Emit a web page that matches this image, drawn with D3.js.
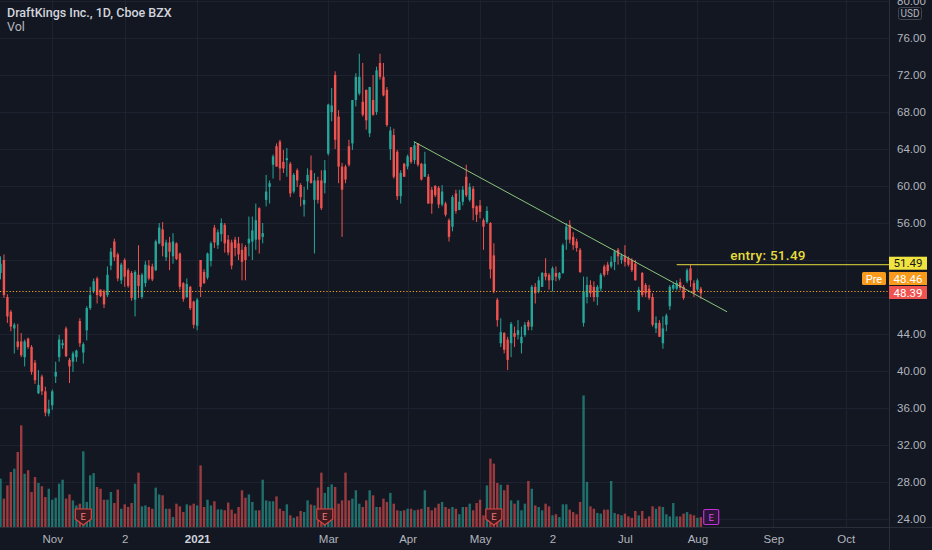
<!DOCTYPE html>
<html lang="en">
<head>
<meta charset="utf-8">
<title>DraftKings Inc., 1D</title>
<script src="https://d3js.org/d3.v7.min.js"></script>
<style>
  html, body { margin: 0; padding: 0; background: #131722; overflow: hidden; }
  svg { display: block; font-family: Roboto, "Noto Sans", sans-serif; }
  .axis text { fill: #b2b5be; font-size: 11.5px; }
  .axis path, .axis line { display: none; }
</style>
</head>
<body>
<svg id="chart" width="932" height="550"></svg>
<script>
// daily candles, [open, high, low, close], first bar = 2020-10-12
const candles = [
  [50.6, 52.4, 49.9, 51.6], [52.0, 52.6, 47.9, 48.2], [48.0, 48.3, 45.2, 45.9], [46.4, 46.6, 44.3, 44.8], [44.6, 45.2, 41.9, 45.0],
  [43.2, 45.1, 42.3, 42.6], [43.2, 44.1, 41.5, 41.7], [41.5, 43.4, 40.5, 43.2], [43.5, 43.6, 42.4, 42.6], [42.6, 42.8, 39.6, 39.9],
  [40.9, 41.2, 38.6, 39.0], [37.6, 40.1, 37.5, 38.5], [39.4, 39.6, 37.4, 37.8], [37.8, 38.3, 35.1, 35.5], [35.4, 36.9, 35.1, 35.9],
  [36.3, 38.0, 35.8, 37.8], [39.4, 41.0, 38.7, 39.9], [41.5, 43.9, 41.0, 43.4], [42.8, 43.4, 42.4, 43.0], [44.6, 44.8, 41.5, 41.6],
  [41.2, 41.4, 38.7, 40.5], [41.0, 42.1, 39.9, 41.9], [41.5, 42.3, 41.0, 42.2], [45.4, 45.7, 42.6, 43.0], [42.0, 43.1, 40.8, 42.9],
  [44.4, 47.0, 43.3, 46.8], [46.8, 49.1, 46.6, 48.2], [48.6, 50.0, 48.4, 49.7], [50.0, 50.2, 47.3, 48.2], [48.8, 48.8, 48.0, 48.1],
  [48.6, 48.8, 46.8, 47.2], [48.2, 51.3, 48.0, 50.4], [51.4, 53.3, 50.9, 52.9], [54.0, 54.3, 51.9, 52.3], [52.6, 52.8, 49.7, 50.0],
  [49.8, 51.7, 49.4, 51.5], [52.0, 52.2, 49.1, 50.2], [50.9, 51.1, 49.0, 49.2], [50.6, 50.8, 47.6, 47.9], [47.7, 50.9, 45.9, 50.7],
  [50.4, 53.6, 47.9, 49.2], [48.0, 50.6, 47.8, 50.4], [49.5, 51.9, 49.1, 51.5], [51.4, 52.0, 49.8, 50.0], [51.3, 51.6, 49.7, 49.9],
  [50.9, 54.2, 50.8, 54.0], [53.8, 56.0, 53.7, 55.5], [55.3, 56.1, 52.4, 53.5], [52.3, 54.2, 51.9, 53.9], [53.9, 54.5, 50.9, 52.9],
  [52.4, 54.9, 51.6, 54.0], [53.8, 53.9, 52.0, 52.1], [52.7, 52.8, 48.8, 49.1], [49.5, 49.6, 47.5, 47.8], [48.0, 50.0, 47.9, 49.4],
  [49.1, 49.2, 46.6, 46.8], [47.5, 47.6, 44.6, 45.0], [44.9, 47.9, 44.4, 47.7], [52.0, 52.0, 48.0, 49.1], [50.7, 51.0, 49.4, 49.5],
  [50.1, 52.8, 49.9, 52.7], [51.9, 54.0, 51.3, 53.8], [55.5, 55.8, 53.3, 53.9], [53.6, 55.3, 53.2, 55.0], [54.8, 56.5, 54.0, 56.0],
  [55.8, 56.0, 52.8, 53.8], [54.2, 54.7, 52.5, 52.8], [53.9, 54.2, 51.0, 51.4], [54.2, 54.5, 52.4, 53.3], [53.8, 54.5, 52.0, 52.6],
  [53.1, 53.8, 49.8, 51.8], [53.4, 53.6, 49.8, 52.0], [53.8, 56.7, 52.4, 54.3], [54.0, 56.7, 52.0, 55.2], [54.2, 58.1, 53.1, 56.3],
  [57.6, 57.7, 52.7, 54.2], [54.5, 56.0, 53.8, 54.9], [58.5, 61.2, 57.8, 59.4], [59.9, 60.6, 58.1, 60.3], [62.3, 63.4, 60.8, 63.2],
  [64.3, 64.6, 62.1, 62.1], [64.8, 65.0, 60.6, 61.9], [62.6, 63.9, 61.4, 61.9], [62.8, 64.1, 61.0, 63.0], [62.4, 62.6, 58.8, 59.2],
  [59.4, 61.4, 59.2, 61.2], [61.7, 61.9, 59.9, 60.6], [60.1, 60.3, 57.8, 58.8], [58.0, 59.9, 56.7, 58.5], [60.5, 61.9, 59.6, 61.2],
  [61.7, 63.3, 60.3, 60.3], [58.5, 61.4, 52.7, 60.6], [60.6, 61.0, 58.1, 58.5], [60.6, 61.7, 57.4, 57.6], [60.3, 62.8, 59.2, 61.7],
  [63.5, 68.9, 63.3, 68.8], [68.0, 70.6, 67.0, 68.7], [72.0, 72.4, 64.0, 65.0], [67.5, 68.2, 60.3, 62.1], [62.1, 62.5, 54.5, 59.6],
  [62.1, 62.3, 60.3, 60.7], [64.3, 65.0, 62.1, 62.3], [64.6, 69.3, 63.9, 69.3], [69.3, 72.2, 68.6, 71.8], [70.0, 74.3, 69.8, 71.8],
  [69.1, 73.3, 67.5, 67.7], [70.4, 70.4, 66.1, 67.1], [65.7, 70.7, 65.3, 70.7], [69.3, 72.0, 67.6, 67.7], [68.0, 72.9, 67.7, 72.5],
  [73.3, 74.3, 71.5, 71.8], [71.8, 73.3, 69.7, 69.8], [70.4, 70.7, 66.4, 66.6], [64.0, 66.4, 62.8, 66.0], [65.5, 66.2, 60.8, 61.0],
  [63.7, 63.9, 58.5, 58.9], [58.9, 61.7, 58.1, 61.4], [62.4, 62.5, 61.0, 61.0], [62.1, 63.4, 61.8, 63.2], [64.2, 64.2, 62.4, 62.6],
  [62.8, 64.8, 62.4, 64.4], [64.6, 64.6, 62.1, 62.3], [62.4, 62.5, 60.6, 60.7], [61.0, 63.7, 61.0, 62.4], [61.0, 61.3, 58.1, 58.1],
  [59.6, 59.9, 57.0, 58.1], [60.0, 60.1, 58.8, 59.0], [59.8, 60.0, 57.6, 58.0], [58.0, 60.1, 57.8, 59.4], [58.1, 58.3, 56.7, 56.9],
  [56.3, 56.5, 54.0, 54.5], [55.6, 59.0, 55.1, 58.8], [59.2, 59.6, 57.0, 57.3], [57.4, 59.6, 57.4, 58.3], [58.3, 60.0, 57.9, 59.6],
  [61.0, 62.3, 58.8, 59.0], [58.5, 60.3, 58.3, 59.9], [59.7, 60.0, 56.3, 57.6], [57.8, 57.9, 56.1, 56.9], [57.9, 58.5, 56.5, 57.2],
  [56.3, 56.5, 53.1, 55.6], [56.1, 57.8, 55.9, 57.3], [56.0, 56.1, 50.0, 51.0], [52.5, 53.8, 48.4, 48.6], [47.7, 47.9, 44.8, 45.5],
  [43.0, 45.7, 42.6, 44.2], [44.1, 44.2, 41.9, 42.3], [43.4, 43.7, 40.1, 41.2], [43.0, 45.3, 41.5, 45.1], [44.1, 44.8, 42.6, 43.7],
  [43.9, 45.5, 43.4, 44.4], [43.0, 44.8, 41.9, 43.7], [43.9, 45.3, 43.7, 45.0], [45.3, 45.5, 44.4, 44.8], [44.8, 49.3, 44.4, 49.1],
  [49.1, 49.5, 47.3, 48.4], [48.6, 50.2, 48.4, 49.8], [49.1, 50.7, 49.1, 50.6], [50.6, 52.2, 49.8, 50.2], [50.4, 50.6, 48.8, 49.8],
  [49.8, 51.3, 48.6, 51.1], [50.6, 51.3, 49.7, 50.2], [50.0, 50.7, 49.8, 50.6], [50.6, 53.8, 50.5, 53.6], [54.2, 56.0, 53.1, 55.6],
  [55.8, 56.3, 53.8, 54.2], [54.5, 55.0, 53.1, 53.6], [54.0, 54.3, 52.9, 53.3], [53.1, 53.3, 50.6, 50.7], [45.2, 50.2, 44.8, 48.6],
  [48.0, 50.2, 47.3, 49.3], [49.3, 49.8, 48.0, 48.4], [49.1, 49.7, 47.5, 48.0], [48.0, 49.3, 47.1, 49.1], [48.9, 50.6, 48.6, 50.4],
  [51.3, 51.5, 50.2, 50.4], [51.5, 51.8, 50.4, 50.8], [51.3, 52.4, 51.1, 51.8], [51.8, 53.1, 50.9, 52.9], [53.1, 53.3, 51.5, 52.4],
  [52.0, 52.7, 51.6, 52.5], [52.5, 53.6, 51.3, 51.8], [52.2, 52.4, 51.3, 51.5], [52.0, 52.2, 50.7, 50.9], [51.6, 52.0, 49.8, 49.8],
  [46.6, 49.1, 46.4, 48.8], [50.6, 50.7, 48.0, 48.2], [49.3, 49.5, 48.0, 48.4], [48.9, 49.3, 47.7, 47.9], [48.0, 48.4, 44.8, 45.0],
  [44.6, 45.9, 44.1, 45.2], [45.2, 45.5, 43.7, 43.7], [43.0, 45.9, 42.4, 44.6], [45.0, 46.2, 44.3, 46.0], [47.0, 49.3, 46.6, 49.1],
  [48.9, 49.5, 48.7, 49.3], [48.9, 49.8, 48.7, 49.5], [49.6, 50.0, 48.7, 49.0], [49.1, 49.3, 47.7, 47.9], [49.7, 51.1, 49.5, 50.9],
  [51.1, 51.5, 49.1, 49.8], [49.5, 49.8, 48.0, 48.4], [48.8, 50.0, 48.6, 49.8], [48.9, 49.1, 47.8, 48.39]
];

// daily volume, millions of shares
const volumes = [
  22.0, 12.9, 18.9, 25.0, 26.5, 34.1, 46.2, 24.2, 25.8, 15.9,
  22.7, 20.0, 18.5, 13.6, 17.4, 12.4, 13.3, 19.7, 21.5, 12.9,
  14.8, 12.1, 9.8, 10.6, 34.4, 11.4, 23.5, 24.5, 18.2, 17.4,
  12.4, 12.4, 15.9, 10.9, 17.0, 8.3, 10.3, 9.1, 10.9, 19.7,
  24.7, 9.4, 9.8, 9.1, 8.3, 17.9, 14.8, 14.4, 8.3, 8.3,
  4.5, 10.6, 9.4, 6.8, 10.3, 9.8, 10.6, 9.8, 28.0, 9.1,
  12.4, 9.8, 11.7, 8.0, 8.0, 7.6, 11.1, 7.9, 6.1, 9.1,
  16.7, 13.3, 14.8, 11.4, 7.6, 7.6, 21.5, 12.1, 11.7, 11.7,
  13.9, 8.3, 7.3, 10.3, 5.3, 4.2, 4.8, 7.3, 6.8, 12.1,
  10.2, 9.8, 17.9, 24.7, 15.5, 18.2, 19.4, 18.2, 10.6, 12.1,
  24.7, 12.1, 12.9, 16.7, 10.6, 9.1, 12.1, 16.7, 14.4, 9.1,
  9.1, 12.9, 11.4, 15.5, 10.6, 7.6, 7.3, 7.6, 8.3, 8.3,
  7.6, 7.9, 8.3, 16.7, 9.1, 7.6, 8.8, 10.6, 11.4, 9.1,
  8.3, 9.1, 8.3, 5.8, 9.1, 9.1, 10.6, 7.6, 10.9, 12.4,
  5.3, 18.9, 31.1, 28.8, 20.0, 19.2, 16.7, 19.2, 12.1, 10.6,
  12.1, 7.6, 10.6, 20.9, 17.4, 9.8, 9.1, 7.6, 10.6, 9.4,
  5.3, 5.8, 4.5, 10.3, 10.3, 7.9, 6.8, 5.8, 11.4, 59.8,
  20.5, 9.4, 8.3, 6.4, 6.1, 7.9, 7.9, 20.9, 6.4, 5.8,
  5.3, 6.1, 4.8, 4.2, 7.3, 5.3, 7.3, 3.8, 4.8, 9.4,
  8.3, 9.4, 9.1, 5.8, 4.8, 10.9, 4.8, 4.8, 6.1, 6.8,
  5.8, 5.3, 4.2, 4.5
];

// time axis: bar index of each label
const timeTicks = [15, 36, 57, 95, 118, 139, 160, 181, 202, 224, 245];
const timeLabels = ['Nov', '2', '2021', 'Mar', 'Apr', 'May', '2', 'Jul', 'Aug', 'Sep', 'Oct'];
const priceTicks = [24, 28, 32, 36, 40, 44, 48, 52, 56, 60, 64, 68, 72, 76, 80];
// tick labels hidden behind the price badges
const hiddenTicks = [48, 52];

// earnings markers (bar index), last one is upcoming
const earnings = [24, 94, 143];
const upcomingEarnings = [206];

// drawings
const trendLine = [[119.8, 64.8], [210.6, 46.4]];
const entryPrice = 51.49;
const entryFrom = 196;
const prePrice = 48.46;
const lastPrice = 48.39;

const W = 932, H = 550;
const paneRight = 889, paneBottom = 527;
const UP = '#26a69a', DOWN = '#ef5350';

const svg = d3.select('#chart');

const x = d3.scaleLinear().domain([0, 245]).range([0.5, 845.75]);
const y = d3.scaleLinear().domain([24, 76]).range([519, 38]);
const v = d3.scaleLinear().domain([0, 60]).range([paneBottom, 395]);

// grid
const grid = svg.append('g').attr('stroke', '#1e2230').attr('stroke-width', 1);
grid.selectAll('.h').data(priceTicks).join('line')
  .attr('x1', 0).attr('x2', paneRight)
  .attr('y1', d => Math.round(y(d)) + 0.5).attr('y2', d => Math.round(y(d)) + 0.5);
grid.selectAll('.v').data(timeTicks).join('line')
  .attr('y1', 0).attr('y2', paneBottom)
  .attr('x1', d => Math.round(x(d)) + 0.5).attr('x2', d => Math.round(x(d)) + 0.5);

// volume
const barW = 2.4;
svg.append('g').selectAll('rect').data(volumes).join('rect')
  .attr('x', (d, i) => x(i) - barW / 2)
  .attr('y', d => v(d))
  .attr('width', barW)
  .attr('height', d => paneBottom - v(d))
  .attr('fill', (d, i) => candles[i][3] >= candles[i][0] ? UP : DOWN)
  .attr('fill-opacity', 0.62);

// candles
const cg = svg.append('g');
cg.selectAll('line').data(candles).join('line')
  .attr('x1', (d, i) => x(i)).attr('x2', (d, i) => x(i))
  .attr('y1', d => y(d[1])).attr('y2', d => y(d[2]))
  .attr('stroke', d => d[3] >= d[0] ? UP : DOWN)
  .attr('stroke-width', 1);
cg.selectAll('rect').data(candles).join('rect')
  .attr('x', (d, i) => x(i) - barW / 2)
  .attr('y', d => y(Math.max(d[0], d[3])))
  .attr('width', barW)
  .attr('height', d => Math.max(1, Math.abs(y(d[0]) - y(d[3]))))
  .attr('fill', d => d[3] >= d[0] ? UP : DOWN);

// premarket / last price dotted line
svg.append('line').attr('x1', 0).attr('x2', paneRight)
  .attr('y1', Math.round(y(lastPrice)) - 1.5).attr('y2', Math.round(y(lastPrice)) - 1.5)
  .attr('stroke', '#f7a21b').attr('stroke-dasharray', '1.2,2').attr('stroke-width', 1.2);

// trend line
svg.append('line')
  .attr('x1', x(trendLine[0][0])).attr('y1', y(trendLine[0][1]))
  .attr('x2', x(trendLine[1][0])).attr('y2', y(trendLine[1][1]))
  .attr('stroke', '#8bc57c').attr('stroke-width', 1);

// entry line
svg.append('line')
  .attr('x1', x(entryFrom)).attr('x2', paneRight)
  .attr('y1', y(entryPrice)).attr('y2', y(entryPrice))
  .attr('stroke', '#e6dc3c').attr('stroke-width', 1);
svg.append('text')
  .attr('x', 768).attr('y', y(entryPrice) - 5)
  .attr('text-anchor', 'middle')
  .attr('fill', '#e6dc3c')
  .attr('font-size', 13.5).attr('font-weight', 500)
  .attr('letter-spacing', 0.3)
  .text('entry: ' + entryPrice.toFixed(2));

// earnings markers
const em = svg.append('g');
earnings.forEach(i => {
  const g = em.append('g').attr('transform', `translate(${x(i)},517)`);
  g.append('path').attr('d', 'M-8,-8H8V2L0,8L-8,2Z')
    .attr('fill', '#3b1a22').attr('stroke', '#e0453f').attr('stroke-width', 1.2);
  g.append('text').attr('y', 3).attr('text-anchor', 'middle')
    .attr('fill', '#f07a72').attr('font-size', 9.5).text('E');
});
upcomingEarnings.forEach(i => {
  const g = em.append('g').attr('transform', `translate(${x(i)},517)`);
  g.append('rect').attr('x', -7.5).attr('y', -7.5).attr('width', 15).attr('height', 15).attr('rx', 1.5)
    .attr('fill', '#2b1538').attr('stroke', '#c22fd6').attr('stroke-width', 1.2);
  g.append('text').attr('y', 3.5).attr('text-anchor', 'middle')
    .attr('fill', '#d54ce6').attr('font-size', 9.5).text('E');
});

// scale borders
svg.append('line').attr('x1', paneRight + 0.5).attr('x2', paneRight + 0.5).attr('y1', 0).attr('y2', H)
  .attr('stroke', '#2a2e39');
svg.append('line').attr('x1', 0).attr('x2', W).attr('y1', paneBottom + 0.5).attr('y2', paneBottom + 0.5)
  .attr('stroke', '#2a2e39');

// price axis
svg.append('g').attr('class', 'axis')
  .attr('transform', `translate(${paneRight},0)`)
  .call(d3.axisRight(y).tickValues(priceTicks.filter(d => !hiddenTicks.includes(d)))
    .tickFormat(d3.format('.2f')).tickSize(0).tickPadding(8));

// time axis
const xa = svg.append('g').attr('class', 'axis')
  .attr('transform', `translate(0,${paneBottom})`)
  .call(d3.axisBottom(x).tickValues(timeTicks).tickFormat((d, i) => timeLabels[i]).tickSize(0).tickPadding(8));
xa.selectAll('text').filter(d => d === 57).attr('font-weight', 700).style('fill', '#d1d4dc');

// price labels on the scale
function scaleLabel(cy, txt, bg, fg) {
  svg.append('rect').attr('x', paneRight).attr('y', cy - 6.5).attr('width', 38).attr('height', 13)
    .attr('fill', bg);
  svg.append('text').attr('x', paneRight + 19).attr('y', cy + 4).attr('text-anchor', 'middle')
    .attr('fill', fg).attr('font-size', 11.5).text(txt);
}
scaleLabel(y(entryPrice) - 1.5, entryPrice.toFixed(2), '#f2e440', '#131722');
scaleLabel(278.5, prePrice.toFixed(2), '#f89a1c', '#ffffff');
scaleLabel(292.5, lastPrice.toFixed(2), '#ef5350', '#ffffff');
svg.append('rect').attr('x', 862).attr('y', 272).attr('width', 24).attr('height', 13).attr('rx', 1.5)
  .attr('fill', '#f89a1c');
svg.append('text').attr('x', 874).attr('y', 282.5).attr('text-anchor', 'middle')
  .attr('fill', '#ffffff').attr('font-size', 11).text('Pre');

// currency badge
svg.append('rect').attr('x', 898.5).attr('y', 7.5).attr('width', 23).attr('height', 12).attr('rx', 2)
  .attr('fill', '#131722').attr('stroke', '#434651');
svg.append('text').attr('x', 910).attr('y', 17).attr('text-anchor', 'middle')
  .attr('fill', '#b2b5be').attr('font-size', 10).text('USD');

// legend
svg.append('text').attr('x', 7).attr('y', 17).attr('fill', '#d1d4dc')
  .attr('font-size', 12.5).attr('font-weight', 500).text('DraftKings Inc., 1D, Cboe BZX');
svg.append('text').attr('x', 7).attr('y', 31).attr('fill', '#b2b5be')
  .attr('font-size', 12.5).text('Vol');
</script>
</body>
</html>
